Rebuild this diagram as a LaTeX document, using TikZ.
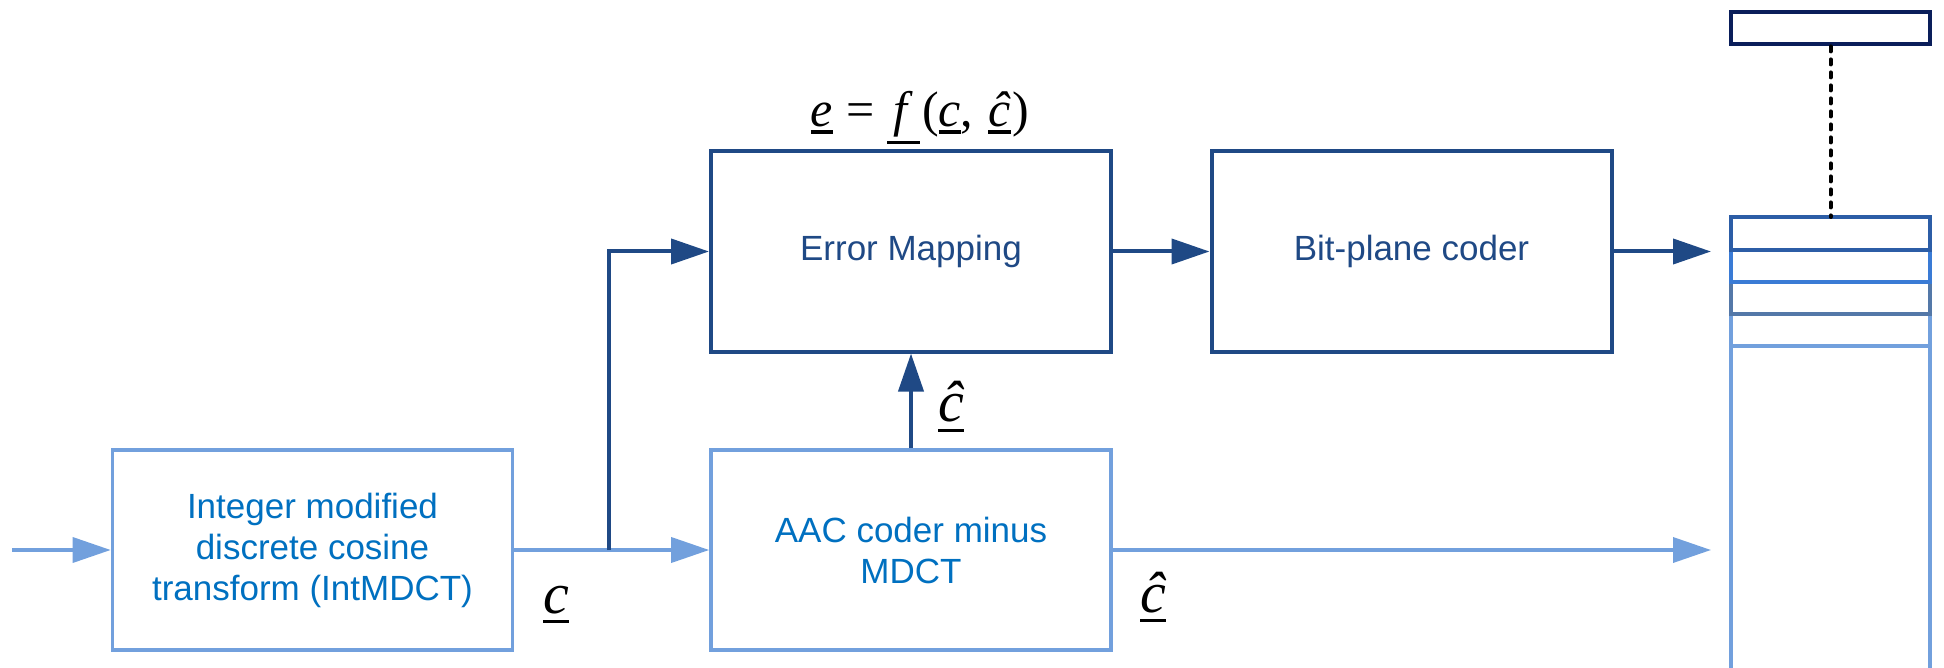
\documentclass[tikz,border=0pt]{standalone}
\usepackage{fontspec}
\setmainfont{Liberation Sans}
\newfontfamily\tmsfont{Liberation Serif}
\usetikzlibrary{arrows.meta}

\definecolor{lineLight}{RGB}{114,160,221}
\definecolor{lineDark}{RGB}{31,73,133}
\definecolor{textLight}{RGB}{0,112,192}
\definecolor{textDark}{RGB}{31,73,133}
\definecolor{navyBox}{RGB}{10,30,90}
\definecolor{rowOne}{RGB}{44,93,166}
\definecolor{rowTwo}{RGB}{58,123,213}
\definecolor{rowThree}{RGB}{84,120,168}

% underlined symbol: rule placed a little below the box depth
\newcommand\ulc[2][1.5pt]{\vtop{\hbox{#2}\kern#1\hrule height 1.8pt}}

\begin{document}
\begin{tikzpicture}[x=0.5pt,y=-0.5pt,
  blk/.style={draw, minimum width=200pt, minimum height=100pt, inner sep=0pt,
    align=center, font=\fontsize{17.5}{20.5}\selectfont},
  lightblk/.style={blk, draw=lineLight, text=textLight, line width=1.8pt},
  darkblk/.style={blk, draw=lineDark, text=textDark, line width=2pt},
  arr/.style={-{Triangle[length=19pt,width=12.5pt]}},
  lightline/.style={draw=lineLight, line width=1.8pt},
  darkline/.style={draw=lineDark, line width=2pt},
  sym/.style={font=\tmsfont\fontsize{29}{32}\selectfont\itshape, inner sep=0pt, anchor=base},
  eqn/.style={font=\tmsfont\fontsize{25}{28}\selectfont, inner sep=0pt, anchor=base}
]
\useasboundingbox (0,0) rectangle (1944,668);

% processing blocks
\node[lightblk] (int) at (312.5,550) {Integer modified\\discrete cosine\\transform (IntMDCT)};
\node[lightblk] (aac) at (911,550) {AAC coder minus\\MDCT};
\node[darkblk]  (err) at (911,251.5) {Error Mapping};
\node[darkblk]  (bpc) at (1411.5,251.5) {Bit-plane coder};

% connector end points
\coordinate (in) at (12,550);
\coordinate (br) at (609,550);
\coordinate (o1) at (1711,251.5);
\coordinate (o2) at (1711,550);

% light signal path
\draw[lightline, arr] (in) -- (int.west);
\draw[lightline, arr] (int.east) -- (aac.west);
\draw[lightline, arr] (aac.east) -- (o2);

% dark signal path
\draw[darkline, arr] (br) |- (err.west);
\draw[darkline, arr] (aac.north) -- (err.south);
\draw[darkline, arr] (err.east) -- (bpc.west);
\draw[darkline, arr] (bpc.east) -- (o1);

% symbols
\node[sym] (lc)  at (556,613) {\ulc[3pt]{c}};
\node[sym] (lch) at (1153,612) {\ulc[3pt]{ĉ}};
\node[sym] (lcu) at (951,422) {\ulc[3pt]{ĉ}};
\node[eqn] (eq)  at (920,127) {\ulc{\itshape e}\hspace{7pt}=\hspace{6pt}\ulc{\kern3pt\itshape f\kern6.5pt}\kern1pt(\ulc{\itshape c},\hspace{7.5pt}\ulc{\itshape ĉ}\kern1pt)};

% bit stream frame
\begin{scope}
  \clip (1700,0) rectangle (1944,668);
  \draw[lineLight, line width=1.9pt] (1731,314) -- (1731,690);
  \draw[lineLight, line width=1.9pt] (1930,314) -- (1930,690);
  \draw[lineLight, line width=1.6pt] (1731,346) -- (1930,346);
  \draw[rowThree, line width=2.2pt] (1731,282) -- (1731,314) -- (1930,314) -- (1930,282);
  \draw[rowTwo, line width=2.2pt] (1731,250) -- (1731,282) -- (1930,282) -- (1930,250);
  \draw[rowOne, line width=2.2pt] (1731,217) rectangle (1930,250);
\end{scope}
\coordinate (stk) at (1830.5,217);

% header block linked to the frame
\node[draw=navyBox, line width=2.4pt, minimum width=99.5pt, minimum height=16pt, inner sep=0pt] (tbox) at (1830.5,28) {};
\draw[black, line width=2pt, line cap=round, dash pattern=on 2.5pt off 4pt] (tbox.south) -- (stk);
\end{tikzpicture}
\end{document}
